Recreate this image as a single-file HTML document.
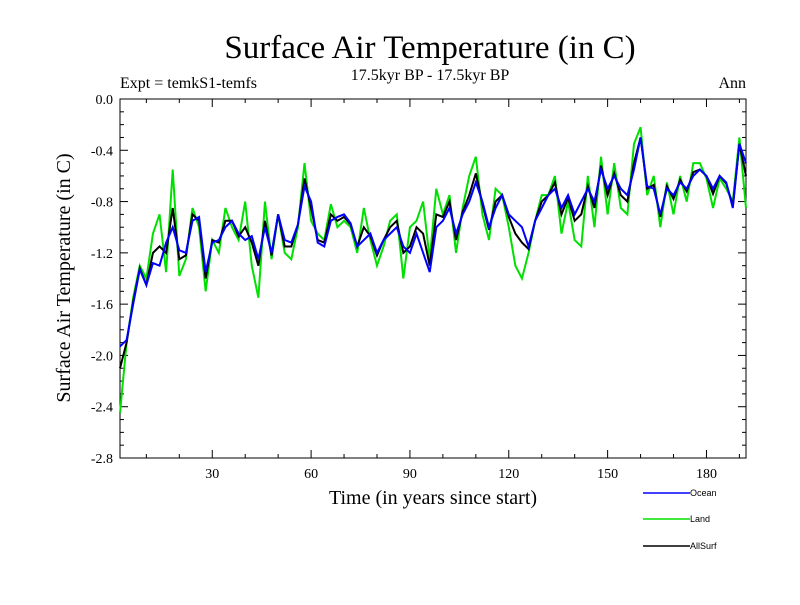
<!DOCTYPE html>
<html><head><meta charset="utf-8"><style>
body{margin:0;background:#fff}
svg text{font-family:"Liberation Serif",serif}
svg #legend text{font-family:"Liberation Sans",sans-serif}
</style></head><body>
<svg id="chart" width="800" height="600" xmlns="http://www.w3.org/2000/svg">
<text x="430" y="58" font-size="33" text-anchor="middle">Surface Air Temperature (in C)</text>
<text x="430" y="80" font-size="16" text-anchor="middle">17.5kyr BP - 17.5kyr BP</text>
<text x="120" y="88" font-size="16">Expt = temkS1-temfs</text>
<text x="746" y="88" font-size="16" text-anchor="end">Ann</text>
<text x="433" y="504" font-size="20" text-anchor="middle">Time (in years since start)</text>
<text transform="translate(70,278) rotate(-90)" font-size="20" text-anchor="middle">Surface Air Temperature (in C)</text>
<g id="axes"></g>
<g id="series"></g>
<g id="legend"></g>
</svg>
<script>
const years=[];for(let y=2;y<=192;y+=2)years.push(y);
const ocean=[-1.93,-1.88,-1.6,-1.33,-1.45,-1.28,-1.3,-1.12,-1.0,-1.18,-1.2,-0.95,-0.92,-1.35,-1.12,-1.1,-1.0,-0.95,-1.05,-1.1,-1.07,-1.25,-1.0,-1.2,-0.9,-1.1,-1.12,-0.98,-0.68,-0.8,-1.12,-1.15,-0.95,-0.92,-0.9,-0.97,-1.15,-1.1,-1.05,-1.2,-1.1,-1.05,-1.0,-1.15,-1.2,-1.05,-1.2,-1.35,-1.0,-0.95,-0.85,-1.05,-0.9,-0.8,-0.65,-0.8,-1.0,-0.85,-0.75,-0.9,-0.95,-1.0,-1.15,-0.95,-0.85,-0.75,-0.7,-0.85,-0.75,-0.9,-0.8,-0.7,-0.8,-0.55,-0.7,-0.6,-0.7,-0.75,-0.55,-0.3,-0.68,-0.7,-0.9,-0.7,-0.75,-0.65,-0.7,-0.6,-0.55,-0.6,-0.7,-0.6,-0.65,-0.85,-0.35,-0.5];
const land=[-2.45,-1.9,-1.55,-1.3,-1.4,-1.05,-0.9,-1.35,-0.55,-1.38,-1.25,-0.85,-1.0,-1.5,-1.1,-1.2,-0.85,-1.0,-1.1,-0.8,-1.3,-1.55,-0.8,-1.25,-0.9,-1.2,-1.25,-1.0,-0.5,-0.95,-1.05,-1.1,-0.82,-1.0,-0.95,-1.0,-1.2,-0.85,-1.1,-1.3,-1.15,-0.95,-0.9,-1.4,-1.0,-0.95,-0.8,-1.25,-0.7,-0.9,-0.75,-1.2,-0.85,-0.6,-0.45,-0.9,-1.1,-0.7,-0.75,-1.0,-1.3,-1.4,-1.2,-0.95,-0.75,-0.75,-0.6,-1.05,-0.8,-1.1,-1.15,-0.6,-1.0,-0.45,-0.9,-0.5,-0.85,-0.9,-0.35,-0.22,-0.75,-0.6,-1.0,-0.65,-0.9,-0.6,-0.8,-0.5,-0.5,-0.62,-0.85,-0.62,-0.7,-0.8,-0.3,-0.85];
const allsurf=[-2.1,-1.9,-1.58,-1.32,-1.45,-1.2,-1.15,-1.2,-0.85,-1.25,-1.22,-0.9,-0.95,-1.4,-1.1,-1.12,-0.95,-0.95,-1.07,-1.0,-1.12,-1.3,-0.95,-1.22,-0.9,-1.15,-1.15,-0.98,-0.62,-0.85,-1.1,-1.12,-0.9,-0.95,-0.92,-0.98,-1.15,-1.0,-1.07,-1.22,-1.1,-1.0,-0.95,-1.2,-1.15,-1.0,-1.05,-1.3,-0.9,-0.92,-0.8,-1.1,-0.88,-0.75,-0.58,-0.82,-1.02,-0.8,-0.75,-0.92,-1.05,-1.12,-1.17,-0.95,-0.8,-0.75,-0.65,-0.9,-0.77,-0.95,-0.9,-0.68,-0.85,-0.52,-0.75,-0.58,-0.75,-0.8,-0.5,-0.3,-0.7,-0.67,-0.92,-0.68,-0.78,-0.63,-0.72,-0.57,-0.55,-0.6,-0.74,-0.6,-0.66,-0.83,-0.35,-0.6];
const yTicks=["0.0","-0.4","-0.8","-1.2","-1.6","-2.0","-2.4","-2.8"];
const xTicks=[30,60,90,120,150,180];
const X0=120,X1=746,Y0=99,Y1=458,xMin=2,xMax=192,yMin=-2.8,yMax=0;
const xs=v=>X0+(v-xMin)/(xMax-xMin)*(X1-X0);
const ys=v=>Y0+(yMax-v)/(yMax-yMin)*(Y1-Y0);
const NS="http://www.w3.org/2000/svg";
function mk(t,a,p){const e=document.createElementNS(NS,t);for(const k in a)e.setAttribute(k,a[k]);p.appendChild(e);return e;}
const ax=document.getElementById('axes');
const frame=mk('rect',{x:X0,y:Y0,width:X1-X0,height:Y1-Y0,fill:'none',stroke:'#000','stroke-width':1},ax);


for(let i=0;i<=28;i++){const v=-i*0.1,y=ys(v),L=i%4==0?8:4;
mk('line',{x1:X0,x2:X0+L,y1:y,y2:y,stroke:'#000'},ax);mk('line',{x1:X1,x2:X1-L,y1:y,y2:y,stroke:'#000'},ax);}
yTicks.forEach(s=>{const t=mk('text',{x:X0-7,y:ys(parseFloat(s))+5,'font-size':14,'text-anchor':'end'},ax);t.textContent=s;

});
for(let v=10;v<=190;v+=10){const x=xs(v),L=v%30==0?8:4;mk('line',{x1:x,x2:x,y1:Y1,y2:Y1-L,stroke:'#000'},ax);mk('line',{x1:x,x2:x,y1:Y0,y2:Y0+L,stroke:'#000'},ax);}
xTicks.forEach(v=>{const t=mk('text',{x:xs(v),y:Y1+20,'font-size':14,'text-anchor':'middle'},ax);t.textContent=v;

});
const sg=document.getElementById('series');
[[land,'#00e000','land-line'],[allsurf,'#000','allsurf-line'],[ocean,'#0000ff','ocean-line']].forEach(([d,c,n])=>{
const p=mk('polyline',{points:d.map((v,i)=>xs(years[i])+','+ys(v)).join(' '),fill:'none',stroke:c,'stroke-width':2},sg);

});
const lg=document.getElementById('legend');
[['Ocean','#0000ff',493],['Land','#00e000',519],['AllSurf','#000',546]].forEach(([n,c,y])=>{
const l=mk('line',{x1:643,x2:690,y1:y,y2:y,stroke:c,'stroke-width':1.5},lg);


const t=mk('text',{x:690,y:y+3,'font-size':9},lg);t.textContent=n;

});
</script>
</body></html>
